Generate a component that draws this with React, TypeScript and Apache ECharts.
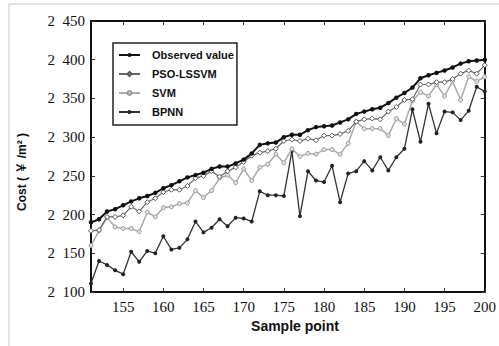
import React, { useEffect, useRef } from "react";
import * as echarts from "echarts";

const samplePoints = [
  151, 152, 153, 154, 155, 156, 157, 158, 159, 160,
  161, 162, 163, 164, 165, 166, 167, 168, 169, 170,
  171, 172, 173, 174, 175, 176, 177, 178, 179, 180,
  181, 182, 183, 184, 185, 186, 187, 188, 189, 190,
  191, 192, 193, 194, 195, 196, 197, 198, 199, 200,
];

const observed = [
  2190, 2194, 2204, 2207, 2212, 2217, 2221, 2224, 2228, 2234,
  2238, 2243, 2248, 2251, 2254, 2259, 2262, 2262, 2266, 2271,
  2279, 2290, 2292, 2293, 2300, 2303, 2303, 2309, 2313, 2314,
  2315, 2319, 2323, 2330, 2333, 2336, 2338, 2344, 2351, 2357,
  2364, 2376, 2380, 2383, 2386, 2390, 2395, 2398, 2399, 2400,
];

const psoLssvm = [
  2179, 2180, 2197, 2197, 2199, 2210, 2204, 2216, 2221, 2229,
  2232, 2232, 2237, 2247, 2250, 2256, 2249, 2256, 2261, 2268,
  2276, 2280, 2282, 2285, 2295, 2297, 2295, 2298, 2296, 2302,
  2302, 2304, 2308, 2320, 2323, 2324, 2323, 2333, 2339, 2348,
  2349, 2368, 2368, 2371, 2371, 2375, 2382, 2386, 2382, 2393,
];

const svm = [
  2160, 2179, 2196, 2184, 2182, 2182, 2178, 2203, 2197, 2209,
  2210, 2214, 2215, 2231, 2222, 2231, 2247, 2251, 2241, 2259,
  2244, 2261, 2265, 2278, 2267, 2285, 2275, 2279, 2278, 2284,
  2284, 2278, 2292, 2320, 2311, 2311, 2311, 2302, 2324, 2317,
  2347, 2358, 2353, 2368, 2353, 2372, 2348, 2378, 2372, 2378,
];

const bpnn = [
  2111, 2140, 2135, 2128, 2123, 2152, 2139, 2153, 2150, 2172,
  2155, 2157, 2168, 2191, 2177, 2183, 2194, 2185, 2196, 2195,
  2191, 2230, 2225, 2225, 2224, 2282, 2198, 2256, 2244, 2242,
  2263, 2216, 2253, 2256, 2269, 2257, 2274, 2257, 2274, 2285,
  2336, 2294, 2343, 2305, 2333, 2332, 2322, 2334, 2365, 2359,
];

const xTicks = [155, 160, 165, 170, 175, 180, 185, 190, 195, 200];
const seriesNames = ["Observed value", "PSO-LSSVM", "SVM", "BPNN"];
const yAxisTitle = "Cost ( ￥ /m² )";
const xAxisTitle = "Sample point";

const pair = (ys: number[]) => samplePoints.map((x, i) => [x, ys[i]]);

export default function App() {
  const ref = useRef<HTMLDivElement>(null);
  useEffect(() => {
    if (!ref.current) return;
    const chart = echarts.init(ref.current, null, { renderer: "svg" });
    const serif = "Liberation Serif, Times New Roman, serif";
    const sans = "Liberation Sans, Arial, Noto Sans CJK SC, sans-serif";
    const axisLine = { show: true, lineStyle: { color: "#111", width: 2 } };
    chart.setOption({
      animation: false,
      backgroundColor: "#fff",
      grid: { left: 91, right: 12, top: 21, bottom: 54 },
      xAxis: [
        {
          type: "value",
          min: 151,
          max: 200,
          axisLine,
          splitLine: { show: false },
          axisTick: { inside: true, length: 4, customValues: xTicks, lineStyle: { color: "#333" } },
          axisLabel: {
            customValues: xTicks,
            margin: 7,
            fontFamily: serif,
            fontSize: 15,
            color: "#111",
          },
        },
        {
          type: "value",
          position: "top",
          min: 151,
          max: 200,
          axisLine,
          splitLine: { show: false },
          axisTick: { inside: true, length: 4, customValues: xTicks, lineStyle: { color: "#333" } },
          axisLabel: { show: false },
        },
      ],
      yAxis: [
        {
          type: "value",
          min: 2100,
          max: 2450,
          interval: 50,
          axisLine,
          splitLine: { show: false },
          axisTick: { inside: true, length: 4, lineStyle: { color: "#333" } },
          axisLabel: {
            margin: 6,
            fontFamily: serif,
            fontSize: 15,
            color: "#111",
            formatter: (v: number) => {
              const s = String(v);
              return s.slice(0, 1) + "\u00a0\u00a0" + s.slice(1);
            },
          },
        },
        {
          type: "value",
          position: "right",
          min: 2100,
          max: 2450,
          interval: 50,
          axisLine,
          splitLine: { show: false },
          axisTick: { inside: true, length: 4, lineStyle: { color: "#333" } },
          axisLabel: { show: false },
        },
      ],
      legend: {
        data: seriesNames,
        orient: "vertical",
        left: 113,
        top: 43,
        itemWidth: 21,
        itemHeight: 5,
        itemGap: 5,
        padding: [5, 3, 6, 5],
        borderColor: "#222",
        borderWidth: 1.5,
        backgroundColor: "#fff",
        textStyle: {
          fontFamily: sans,
          fontWeight: "bold",
          fontSize: 11,
          lineHeight: 14,
          color: "#111",
          padding: [0, 0, 0, 7],
        },
      },
      graphic: [
        {
          type: "rect",
          shape: { x: 9, y: 4, width: 600, height: 400 },
          style: { fill: "none", stroke: "#c8c8c8", lineWidth: 1 },
          silent: true,
          z: -10,
        },
        {
          type: "text",
          x: 22,
          y: 172,
          rotation: Math.PI / 2,
          style: {
            text: yAxisTitle,
            fontFamily: sans,
            fontWeight: "bold",
            fontSize: 12,
            fill: "#111",
            align: "center",
            verticalAlign: "middle",
          },
        },
        {
          type: "text",
          x: 295,
          y: 326,
          style: {
            text: xAxisTitle,
            fontFamily: sans,
            fontWeight: "bold",
            fontSize: 14,
            fill: "#111",
            align: "center",
            verticalAlign: "middle",
          },
        },
      ],
      series: [
        {
          name: seriesNames[3],
          type: "line",
          data: pair(bpnn),
          symbol: "circle",
          symbolSize: 4,
          z: 2,
          lineStyle: { color: "#333", width: 1.3 },
          itemStyle: { color: "#222" },
        },
        {
          name: seriesNames[2],
          type: "line",
          data: pair(svm),
          symbol: "circle",
          symbolSize: 4,
          z: 3,
          lineStyle: { color: "#aaa", width: 1.5 },
          itemStyle: { color: "#e0e0e0", borderColor: "#999", borderWidth: 1 },
        },
        {
          name: seriesNames[1],
          type: "line",
          data: pair(psoLssvm),
          symbol: "diamond",
          symbolSize: 5,
          z: 4,
          lineStyle: { color: "#666", width: 1.2 },
          itemStyle: { color: "#fff", borderColor: "#555", borderWidth: 1 },
        },
        {
          name: seriesNames[0],
          type: "line",
          data: pair(observed),
          symbol: "circle",
          symbolSize: 4.5,
          z: 5,
          lineStyle: { color: "#111", width: 2 },
          itemStyle: { color: "#111" },
        },
      ],
    });
    return () => chart.dispose();
  }, []);
  return (
    <div
      ref={ref}
      style={{ position: "fixed", left: 0, top: 0, width: 499, height: 346, background: "#fff" }}
    />
  );
}
